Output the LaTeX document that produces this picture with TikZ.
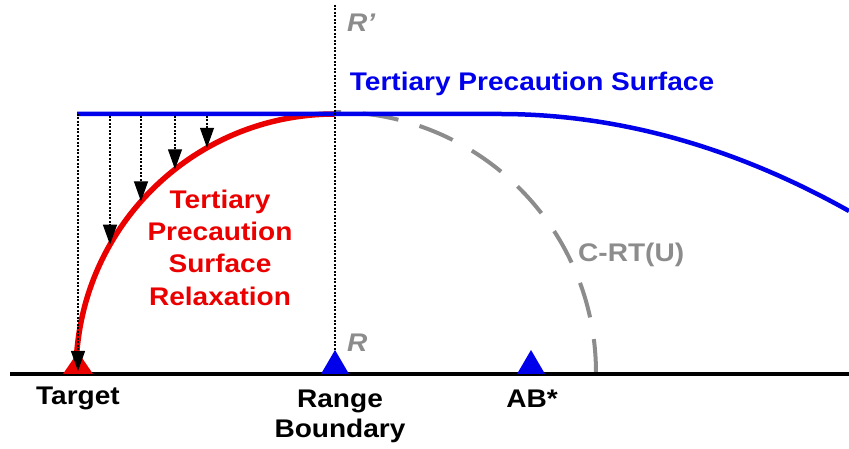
\documentclass[tikz,border=0pt]{standalone}
\usepackage{fontspec}
\setmainfont{Liberation Sans}[FakeStretch=1.1]
\usetikzlibrary{arrows.meta}
\definecolor{tblue}{RGB}{0,0,235}
\definecolor{tred}{RGB}{235,0,0}
\definecolor{tgray}{RGB}{140,140,140}
\begin{document}
\begin{tikzpicture}[x=1pt,y=1pt,
  lbl/.style={font=\fontsize{25.5}{30}\selectfont\bfseries, inner sep=0pt},
  droparrow/.style={line width=1.2pt, dash pattern=on 2pt off 1.5pt, -{Triangle[length=20pt,width=14pt]}},
  guide/.style={line width=1.2pt, dash pattern=on 2pt off 1.5pt},
  blueline/.style={draw=tblue, line width=4.5pt},
  redline/.style={draw=tred, line width=5.5pt},
  grayline/.style={draw=tgray, line width=4pt, dash pattern=on 36pt off 22pt, dash phase=2pt},
  ground/.style={draw=black, line width=4.5pt}]
\useasboundingbox (0,0) rectangle (849,449);
% coordinates
\coordinate (center) at (335,76);
\coordinate (gl) at (10,75);
\coordinate (gr) at (849,75);
\coordinate (bl) at (77,335);
\coordinate (bm) at (500,335);
\coordinate (be) at (849,238);
\coordinate (rtop) at (335,444);
\coordinate (rbot) at (335,76);
% arrow starts and ends
\coordinate (s0) at (78,335);  \coordinate (e0) at (78,78);
\coordinate (s1) at (110,333); \coordinate (e1) at (110,204.3);
\coordinate (s2) at (141,333); \coordinate (e2) at (141,247.6);
\coordinate (s3) at (175,333); \coordinate (e3) at (175,279.7);
\coordinate (s4) at (207,333); \coordinate (e4) at (207,301.2);
% gray dashed arc
\draw[grayline] (596,76) arc[start angle=0,end angle=90,radius=261];
% red arc
\draw[redline] (76,76) arc[start angle=180,end angle=90,radius=259];
% blue surface
\draw[blueline] (bl) -- (bm) .. controls (616,335) and (733,303) .. (be);
% vertical guide R - R'
\draw[guide] (rtop) -- (rbot);
% ground
\draw[ground] (gl) -- (gr);
% triangles
\fill[tred] (63,75) -- (78,97) -- (93,75) -- cycle;
\fill[tblue] (321,75) -- (335,99) -- (349,75) -- cycle;
\fill[tblue] (517,75) -- (531,99) -- (545,75) -- cycle;
% arrows
\draw[droparrow] (s0) -- (e0);
\draw[droparrow] (s1) -- (e1);
\draw[droparrow] (s2) -- (e2);
\draw[droparrow] (s3) -- (e3);
\draw[droparrow] (s4) -- (e4);
% labels
\node[lbl, text=tblue, anchor=base] (title) at (532,358) {Tertiary Precaution Surface};
\node[lbl, text=tred, align=center, anchor=north, font=\fontsize{25.5}{32.3}\selectfont\bfseries] (relax) at (220,259.3) {Tertiary\\Precaution\\Surface\\Relaxation};
\node[lbl, text=tgray, anchor=base west] (crt) at (578,187) {C-RT(U)};
\node[lbl, text=tgray, anchor=base west, font=\fontsize{25.5}{30}\selectfont\bfseries\itshape] (rprime) at (347,417) {R’};
\node[lbl, text=tgray, anchor=base west, font=\fontsize{25.5}{30}\selectfont\bfseries\itshape] (rlab) at (347,97) {R};
\node[lbl, anchor=base] (target) at (78,44) {Target};
\node[lbl, anchor=north, align=center] (range) at (340,59) {Range\\Boundary};
\node[lbl, anchor=base] (ab) at (532,41) {AB*};
\end{tikzpicture}
\end{document}
